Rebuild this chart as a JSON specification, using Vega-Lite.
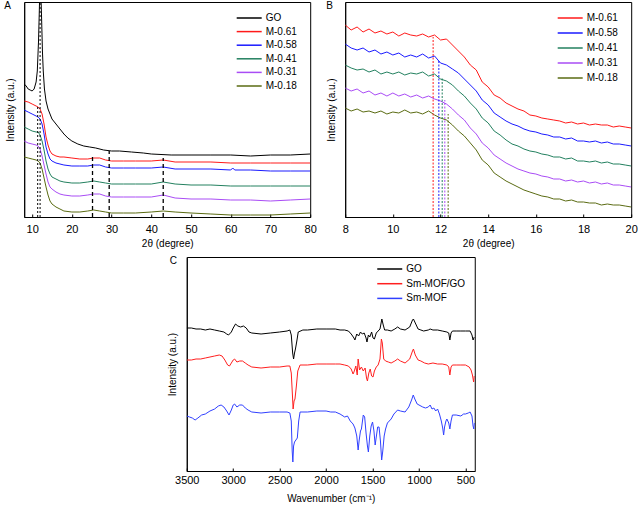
{
"$schema":"https://vega.github.io/schema/vega-lite/v6.json",
"padding":{"left":3,"top":0,"right":0,"bottom":0},
"background":"white",
"config":{
 "font":"Liberation Sans",
 "view":{"stroke":"black","strokeWidth":1},
 "axis":{"grid":false,"domainColor":"black","tickColor":"black","labelColor":"black","titleColor":"black","titleFontWeight":"normal","labelFontSize":11,"titleFontSize":10,"labelFont":"Liberation Sans","titleFont":"Liberation Sans","labelFlush":false},
 "legend":{"orient":"none","symbolType":"M-3.125,0H3.125","symbolStrokeWidth":1.5,"symbolSize":64,"symbolOffset":5,"labelFontSize":10,"labelColor":"black","labelFont":"Liberation Sans","padding":0,"labelOffset":11.5,"title":null},
 "title":{"fontSize":10,"fontWeight":"normal","anchor":"start","frame":"group","offset":-9,"color":"black","font":"Liberation Sans"}
},
"datasets":{
"xa":[
{"s":"GO","x":8,"y":133},{"s":"GO","x":8.5,"y":131},{"s":"GO","x":9,"y":128},{"s":"GO","x":9.5,"y":127},{"s":"GO","x":10,"y":126},{"s":"GO","x":10.5,"y":128},{"s":"GO","x":11,"y":135},{"s":"GO","x":11.3,"y":146},{"s":"GO","x":11.6,"y":175},{"s":"GO","x":11.8,"y":205},{"s":"GO","x":12.0,"y":240},{"s":"GO","x":12.2,"y":225},{"s":"GO","x":12.4,"y":196},{"s":"GO","x":12.6,"y":165},{"s":"GO","x":12.8,"y":146},{"s":"GO","x":13.1,"y":128},{"s":"GO","x":13.5,"y":116},{"s":"GO","x":14,"y":108},{"s":"GO","x":14.5,"y":103},{"s":"GO","x":15,"y":98},{"s":"GO","x":16,"y":93},{"s":"GO","x":17,"y":88},{"s":"GO","x":18,"y":83},{"s":"GO","x":19,"y":79},{"s":"GO","x":20,"y":76},{"s":"GO","x":21.5,"y":73},{"s":"GO","x":23,"y":71},{"s":"GO","x":24.5,"y":70},{"s":"GO","x":26,"y":69},{"s":"GO","x":28,"y":67},{"s":"GO","x":30,"y":66},{"s":"GO","x":32,"y":66},{"s":"GO","x":35,"y":65},{"s":"GO","x":38,"y":64},{"s":"GO","x":40,"y":63},{"s":"GO","x":45,"y":62},{"s":"GO","x":50,"y":62},{"s":"GO","x":55,"y":62},{"s":"GO","x":60,"y":62},{"s":"GO","x":65,"y":61},{"s":"GO","x":70,"y":62},{"s":"GO","x":75,"y":62},{"s":"GO","x":80,"y":63},
{"s":"M-0.61","x":8,"y":116},{"s":"M-0.61","x":9,"y":115},{"s":"M-0.61","x":10,"y":113},{"s":"M-0.61","x":11,"y":111},{"s":"M-0.61","x":11.5,"y":110},{"s":"M-0.61","x":12,"y":108},{"s":"M-0.61","x":12.5,"y":103},{"s":"M-0.61","x":13,"y":93},{"s":"M-0.61","x":13.5,"y":80},{"s":"M-0.61","x":14,"y":72},{"s":"M-0.61","x":14.5,"y":66},{"s":"M-0.61","x":15,"y":63},{"s":"M-0.61","x":16,"y":61},{"s":"M-0.61","x":17,"y":60},{"s":"M-0.61","x":18,"y":60},{"s":"M-0.61","x":20,"y":59},{"s":"M-0.61","x":22,"y":58},{"s":"M-0.61","x":24,"y":58},{"s":"M-0.61","x":25.5,"y":59},{"s":"M-0.61","x":27,"y":59},{"s":"M-0.61","x":28.5,"y":57},{"s":"M-0.61","x":30,"y":56},{"s":"M-0.61","x":33,"y":56},{"s":"M-0.61","x":36,"y":56},{"s":"M-0.61","x":40,"y":56},{"s":"M-0.61","x":43,"y":57},{"s":"M-0.61","x":46,"y":55},{"s":"M-0.61","x":50,"y":55},{"s":"M-0.61","x":55,"y":55},{"s":"M-0.61","x":60,"y":54},{"s":"M-0.61","x":65,"y":54},{"s":"M-0.61","x":70,"y":54},{"s":"M-0.61","x":75,"y":54},{"s":"M-0.61","x":80,"y":54},
{"s":"M-0.58","x":8,"y":107},{"s":"M-0.58","x":9,"y":105},{"s":"M-0.58","x":10,"y":103},{"s":"M-0.58","x":11,"y":101},{"s":"M-0.58","x":11.5,"y":100},{"s":"M-0.58","x":12,"y":98},{"s":"M-0.58","x":12.5,"y":93},{"s":"M-0.58","x":13,"y":83},{"s":"M-0.58","x":13.5,"y":70},{"s":"M-0.58","x":14,"y":63},{"s":"M-0.58","x":14.5,"y":58},{"s":"M-0.58","x":15,"y":56},{"s":"M-0.58","x":16,"y":54},{"s":"M-0.58","x":17,"y":53},{"s":"M-0.58","x":18,"y":52},{"s":"M-0.58","x":20,"y":51},{"s":"M-0.58","x":22,"y":51},{"s":"M-0.58","x":24,"y":51},{"s":"M-0.58","x":25.5,"y":52},{"s":"M-0.58","x":27,"y":52},{"s":"M-0.58","x":28.5,"y":50},{"s":"M-0.58","x":30,"y":49},{"s":"M-0.58","x":33,"y":49},{"s":"M-0.58","x":36,"y":49},{"s":"M-0.58","x":40,"y":49},{"s":"M-0.58","x":43,"y":50},{"s":"M-0.58","x":46,"y":48},{"s":"M-0.58","x":50,"y":48},{"s":"M-0.58","x":55,"y":48},{"s":"M-0.58","x":60,"y":47},{"s":"M-0.58","x":60.5,"y":49},{"s":"M-0.58","x":61,"y":47},{"s":"M-0.58","x":65,"y":47},{"s":"M-0.58","x":70,"y":46},{"s":"M-0.58","x":75,"y":46},{"s":"M-0.58","x":80,"y":46},
{"s":"M-0.41","x":8,"y":90},{"s":"M-0.41","x":9,"y":88},{"s":"M-0.41","x":10,"y":86},{"s":"M-0.41","x":11,"y":85},{"s":"M-0.41","x":11.5,"y":85},{"s":"M-0.41","x":12,"y":82},{"s":"M-0.41","x":12.5,"y":76},{"s":"M-0.41","x":13,"y":67},{"s":"M-0.41","x":13.5,"y":56},{"s":"M-0.41","x":14,"y":48},{"s":"M-0.41","x":14.5,"y":43},{"s":"M-0.41","x":15,"y":40},{"s":"M-0.41","x":16,"y":38},{"s":"M-0.41","x":17,"y":36},{"s":"M-0.41","x":18,"y":35},{"s":"M-0.41","x":20,"y":34},{"s":"M-0.41","x":22,"y":34},{"s":"M-0.41","x":24,"y":35},{"s":"M-0.41","x":25.5,"y":36},{"s":"M-0.41","x":27,"y":35},{"s":"M-0.41","x":28.5,"y":34},{"s":"M-0.41","x":30,"y":33},{"s":"M-0.41","x":33,"y":33},{"s":"M-0.41","x":36,"y":33},{"s":"M-0.41","x":40,"y":33},{"s":"M-0.41","x":43,"y":35},{"s":"M-0.41","x":46,"y":33},{"s":"M-0.41","x":50,"y":32},{"s":"M-0.41","x":55,"y":32},{"s":"M-0.41","x":60,"y":31},{"s":"M-0.41","x":65,"y":31},{"s":"M-0.41","x":70,"y":31},{"s":"M-0.41","x":75,"y":31},{"s":"M-0.41","x":80,"y":31},
{"s":"M-0.31","x":8,"y":76},{"s":"M-0.31","x":9,"y":74},{"s":"M-0.31","x":10,"y":73},{"s":"M-0.31","x":11,"y":72},{"s":"M-0.31","x":11.5,"y":71},{"s":"M-0.31","x":12,"y":68},{"s":"M-0.31","x":12.5,"y":61},{"s":"M-0.31","x":13,"y":52},{"s":"M-0.31","x":13.5,"y":43},{"s":"M-0.31","x":14,"y":35},{"s":"M-0.31","x":14.5,"y":30},{"s":"M-0.31","x":15,"y":28},{"s":"M-0.31","x":16,"y":25},{"s":"M-0.31","x":17,"y":23},{"s":"M-0.31","x":18,"y":22},{"s":"M-0.31","x":20,"y":21},{"s":"M-0.31","x":22,"y":21},{"s":"M-0.31","x":24,"y":22},{"s":"M-0.31","x":25.5,"y":23},{"s":"M-0.31","x":27,"y":23},{"s":"M-0.31","x":28.5,"y":21},{"s":"M-0.31","x":30,"y":20},{"s":"M-0.31","x":33,"y":20},{"s":"M-0.31","x":36,"y":20},{"s":"M-0.31","x":40,"y":20},{"s":"M-0.31","x":43,"y":22},{"s":"M-0.31","x":46,"y":19},{"s":"M-0.31","x":50,"y":18},{"s":"M-0.31","x":55,"y":18},{"s":"M-0.31","x":60,"y":17},{"s":"M-0.31","x":65,"y":17},{"s":"M-0.31","x":70,"y":16},{"s":"M-0.31","x":75,"y":17},{"s":"M-0.31","x":80,"y":18},
{"s":"M-0.18","x":8,"y":60},{"s":"M-0.18","x":9,"y":59},{"s":"M-0.18","x":10,"y":58},{"s":"M-0.18","x":11,"y":57},{"s":"M-0.18","x":11.5,"y":56},{"s":"M-0.18","x":12,"y":54},{"s":"M-0.18","x":12.5,"y":48},{"s":"M-0.18","x":13,"y":39},{"s":"M-0.18","x":13.5,"y":30},{"s":"M-0.18","x":14,"y":22},{"s":"M-0.18","x":14.5,"y":16},{"s":"M-0.18","x":15,"y":13},{"s":"M-0.18","x":16,"y":10},{"s":"M-0.18","x":17,"y":8},{"s":"M-0.18","x":18,"y":6},{"s":"M-0.18","x":20,"y":5},{"s":"M-0.18","x":22,"y":5},{"s":"M-0.18","x":24,"y":6},{"s":"M-0.18","x":25.5,"y":7},{"s":"M-0.18","x":27,"y":6},{"s":"M-0.18","x":28.5,"y":5},{"s":"M-0.18","x":30,"y":4},{"s":"M-0.18","x":33,"y":4},{"s":"M-0.18","x":36,"y":4},{"s":"M-0.18","x":40,"y":5},{"s":"M-0.18","x":43,"y":6},{"s":"M-0.18","x":46,"y":5},{"s":"M-0.18","x":50,"y":4},{"s":"M-0.18","x":55,"y":3},{"s":"M-0.18","x":60,"y":2},{"s":"M-0.18","x":65,"y":2},{"s":"M-0.18","x":70,"y":2},{"s":"M-0.18","x":75,"y":3},{"s":"M-0.18","x":80,"y":4}
],
"ra_dot":[{"x":11.4,"y":0,"y2":110},{"x":12.0,"y":0,"y2":215}],
"ra_dash":[{"x":25.2,"y":0,"y2":63},{"x":29.4,"y":0,"y2":66},{"x":43,"y":0,"y2":59}],
"xb":[
{"s":"M-0.61","x":8,"y":192},{"s":"M-0.61","x":8.25,"y":187},{"s":"M-0.61","x":8.5,"y":190},{"s":"M-0.61","x":8.75,"y":185},{"s":"M-0.61","x":9,"y":188},{"s":"M-0.61","x":9.25,"y":184},{"s":"M-0.61","x":9.5,"y":186},{"s":"M-0.61","x":9.75,"y":183},{"s":"M-0.61","x":10,"y":185},{"s":"M-0.61","x":10.25,"y":181},{"s":"M-0.61","x":10.5,"y":184},{"s":"M-0.61","x":10.75,"y":182},{"s":"M-0.61","x":11,"y":181},{"s":"M-0.61","x":11.25,"y":183},{"s":"M-0.61","x":11.5,"y":180},{"s":"M-0.61","x":11.75,"y":182},{"s":"M-0.61","x":12,"y":177},{"s":"M-0.61","x":12.25,"y":178},{"s":"M-0.61","x":12.5,"y":172},{"s":"M-0.61","x":12.75,"y":166},{"s":"M-0.61","x":13,"y":160},{"s":"M-0.61","x":13.25,"y":152},{"s":"M-0.61","x":13.5,"y":147},{"s":"M-0.61","x":13.75,"y":135},{"s":"M-0.61","x":14,"y":130},{"s":"M-0.61","x":14.25,"y":122},{"s":"M-0.61","x":14.5,"y":119},{"s":"M-0.61","x":14.75,"y":114},{"s":"M-0.61","x":15,"y":111},{"s":"M-0.61","x":15.25,"y":108},{"s":"M-0.61","x":15.5,"y":106},{"s":"M-0.61","x":15.75,"y":102},{"s":"M-0.61","x":16,"y":101},{"s":"M-0.61","x":16.25,"y":99},{"s":"M-0.61","x":16.5,"y":98},{"s":"M-0.61","x":16.75,"y":97},{"s":"M-0.61","x":17,"y":96},{"s":"M-0.61","x":17.25,"y":94},{"s":"M-0.61","x":17.5,"y":95},{"s":"M-0.61","x":17.75,"y":93},{"s":"M-0.61","x":18,"y":94},{"s":"M-0.61","x":18.25,"y":92},{"s":"M-0.61","x":18.5,"y":93},{"s":"M-0.61","x":18.75,"y":92},{"s":"M-0.61","x":19,"y":92},{"s":"M-0.61","x":19.25,"y":90},{"s":"M-0.61","x":19.5,"y":91},{"s":"M-0.61","x":19.75,"y":90},{"s":"M-0.61","x":20,"y":89},
{"s":"M-0.58","x":8,"y":173},{"s":"M-0.58","x":8.25,"y":169},{"s":"M-0.58","x":8.5,"y":167},{"s":"M-0.58","x":8.75,"y":169},{"s":"M-0.58","x":9,"y":165},{"s":"M-0.58","x":9.25,"y":167},{"s":"M-0.58","x":9.5,"y":163},{"s":"M-0.58","x":9.75,"y":165},{"s":"M-0.58","x":10,"y":162},{"s":"M-0.58","x":10.25,"y":164},{"s":"M-0.58","x":10.5,"y":160},{"s":"M-0.58","x":10.75,"y":162},{"s":"M-0.58","x":11,"y":160},{"s":"M-0.58","x":11.25,"y":163},{"s":"M-0.58","x":11.5,"y":159},{"s":"M-0.58","x":11.75,"y":161},{"s":"M-0.58","x":12,"y":154},{"s":"M-0.58","x":12.25,"y":152},{"s":"M-0.58","x":12.5,"y":148},{"s":"M-0.58","x":12.75,"y":144},{"s":"M-0.58","x":13,"y":138},{"s":"M-0.58","x":13.25,"y":132},{"s":"M-0.58","x":13.5,"y":126},{"s":"M-0.58","x":13.75,"y":117},{"s":"M-0.58","x":14,"y":112},{"s":"M-0.58","x":14.25,"y":104},{"s":"M-0.58","x":14.5,"y":100},{"s":"M-0.58","x":14.75,"y":96},{"s":"M-0.58","x":15,"y":93},{"s":"M-0.58","x":15.25,"y":91},{"s":"M-0.58","x":15.5,"y":88},{"s":"M-0.58","x":15.75,"y":86},{"s":"M-0.58","x":16,"y":85},{"s":"M-0.58","x":16.25,"y":83},{"s":"M-0.58","x":16.5,"y":82},{"s":"M-0.58","x":16.75,"y":80},{"s":"M-0.58","x":17,"y":80},{"s":"M-0.58","x":17.25,"y":78},{"s":"M-0.58","x":17.5,"y":79},{"s":"M-0.58","x":17.75,"y":76},{"s":"M-0.58","x":18,"y":76},{"s":"M-0.58","x":18.25,"y":75},{"s":"M-0.58","x":18.5,"y":76},{"s":"M-0.58","x":18.75,"y":74},{"s":"M-0.58","x":19,"y":75},{"s":"M-0.58","x":19.25,"y":73},{"s":"M-0.58","x":19.5,"y":73},{"s":"M-0.58","x":19.75,"y":72},{"s":"M-0.58","x":20,"y":71},
{"s":"M-0.41","x":8,"y":152},{"s":"M-0.41","x":8.25,"y":149},{"s":"M-0.41","x":8.5,"y":147},{"s":"M-0.41","x":8.75,"y":148},{"s":"M-0.41","x":9,"y":145},{"s":"M-0.41","x":9.25,"y":147},{"s":"M-0.41","x":9.5,"y":143},{"s":"M-0.41","x":9.75,"y":145},{"s":"M-0.41","x":10,"y":143},{"s":"M-0.41","x":10.25,"y":145},{"s":"M-0.41","x":10.5,"y":142},{"s":"M-0.41","x":10.75,"y":144},{"s":"M-0.41","x":11,"y":143},{"s":"M-0.41","x":11.25,"y":145},{"s":"M-0.41","x":11.5,"y":141},{"s":"M-0.41","x":11.75,"y":143},{"s":"M-0.41","x":12,"y":138},{"s":"M-0.41","x":12.25,"y":136},{"s":"M-0.41","x":12.5,"y":132},{"s":"M-0.41","x":12.75,"y":126},{"s":"M-0.41","x":13,"y":121},{"s":"M-0.41","x":13.25,"y":114},{"s":"M-0.41","x":13.5,"y":108},{"s":"M-0.41","x":13.75,"y":99},{"s":"M-0.41","x":14,"y":94},{"s":"M-0.41","x":14.25,"y":86},{"s":"M-0.41","x":14.5,"y":82},{"s":"M-0.41","x":14.75,"y":77},{"s":"M-0.41","x":15,"y":73},{"s":"M-0.41","x":15.25,"y":71},{"s":"M-0.41","x":15.5,"y":68},{"s":"M-0.41","x":15.75,"y":66},{"s":"M-0.41","x":16,"y":65},{"s":"M-0.41","x":16.25,"y":63},{"s":"M-0.41","x":16.5,"y":62},{"s":"M-0.41","x":16.75,"y":60},{"s":"M-0.41","x":17,"y":60},{"s":"M-0.41","x":17.25,"y":58},{"s":"M-0.41","x":17.5,"y":59},{"s":"M-0.41","x":17.75,"y":56},{"s":"M-0.41","x":18,"y":56},{"s":"M-0.41","x":18.25,"y":55},{"s":"M-0.41","x":18.5,"y":56},{"s":"M-0.41","x":18.75,"y":54},{"s":"M-0.41","x":19,"y":55},{"s":"M-0.41","x":19.25,"y":53},{"s":"M-0.41","x":19.5,"y":53},{"s":"M-0.41","x":19.75,"y":52},{"s":"M-0.41","x":20,"y":51},
{"s":"M-0.31","x":8,"y":129},{"s":"M-0.31","x":8.25,"y":126},{"s":"M-0.31","x":8.5,"y":128},{"s":"M-0.31","x":8.75,"y":124},{"s":"M-0.31","x":9,"y":126},{"s":"M-0.31","x":9.25,"y":122},{"s":"M-0.31","x":9.5,"y":124},{"s":"M-0.31","x":9.75,"y":121},{"s":"M-0.31","x":10,"y":124},{"s":"M-0.31","x":10.25,"y":121},{"s":"M-0.31","x":10.5,"y":123},{"s":"M-0.31","x":10.75,"y":120},{"s":"M-0.31","x":11,"y":122},{"s":"M-0.31","x":11.25,"y":119},{"s":"M-0.31","x":11.5,"y":121},{"s":"M-0.31","x":11.75,"y":118},{"s":"M-0.31","x":12,"y":116},{"s":"M-0.31","x":12.25,"y":113},{"s":"M-0.31","x":12.5,"y":108},{"s":"M-0.31","x":12.75,"y":102},{"s":"M-0.31","x":13,"y":97},{"s":"M-0.31","x":13.25,"y":89},{"s":"M-0.31","x":13.5,"y":83},{"s":"M-0.31","x":13.75,"y":74},{"s":"M-0.31","x":14,"y":69},{"s":"M-0.31","x":14.25,"y":62},{"s":"M-0.31","x":14.5,"y":58},{"s":"M-0.31","x":14.75,"y":54},{"s":"M-0.31","x":15,"y":51},{"s":"M-0.31","x":15.25,"y":48},{"s":"M-0.31","x":15.5,"y":46},{"s":"M-0.31","x":15.75,"y":44},{"s":"M-0.31","x":16,"y":43},{"s":"M-0.31","x":16.25,"y":41},{"s":"M-0.31","x":16.5,"y":40},{"s":"M-0.31","x":16.75,"y":38},{"s":"M-0.31","x":17,"y":38},{"s":"M-0.31","x":17.25,"y":36},{"s":"M-0.31","x":17.5,"y":37},{"s":"M-0.31","x":17.75,"y":35},{"s":"M-0.31","x":18,"y":36},{"s":"M-0.31","x":18.25,"y":34},{"s":"M-0.31","x":18.5,"y":35},{"s":"M-0.31","x":18.75,"y":33},{"s":"M-0.31","x":19,"y":34},{"s":"M-0.31","x":19.25,"y":32},{"s":"M-0.31","x":19.5,"y":32},{"s":"M-0.31","x":19.75,"y":31},{"s":"M-0.31","x":20,"y":30},
{"s":"M-0.18","x":8,"y":109},{"s":"M-0.18","x":8.25,"y":106},{"s":"M-0.18","x":8.5,"y":108},{"s":"M-0.18","x":8.75,"y":105},{"s":"M-0.18","x":9,"y":106},{"s":"M-0.18","x":9.25,"y":104},{"s":"M-0.18","x":9.5,"y":106},{"s":"M-0.18","x":9.75,"y":103},{"s":"M-0.18","x":10,"y":105},{"s":"M-0.18","x":10.25,"y":104},{"s":"M-0.18","x":10.5,"y":107},{"s":"M-0.18","x":10.75,"y":104},{"s":"M-0.18","x":11,"y":105},{"s":"M-0.18","x":11.25,"y":103},{"s":"M-0.18","x":11.5,"y":106},{"s":"M-0.18","x":11.75,"y":102},{"s":"M-0.18","x":12,"y":99},{"s":"M-0.18","x":12.25,"y":97},{"s":"M-0.18","x":12.5,"y":92},{"s":"M-0.18","x":12.75,"y":86},{"s":"M-0.18","x":13,"y":81},{"s":"M-0.18","x":13.25,"y":74},{"s":"M-0.18","x":13.5,"y":67},{"s":"M-0.18","x":13.75,"y":57},{"s":"M-0.18","x":14,"y":52},{"s":"M-0.18","x":14.25,"y":44},{"s":"M-0.18","x":14.5,"y":40},{"s":"M-0.18","x":14.75,"y":36},{"s":"M-0.18","x":15,"y":33},{"s":"M-0.18","x":15.25,"y":30},{"s":"M-0.18","x":15.5,"y":27},{"s":"M-0.18","x":15.75,"y":25},{"s":"M-0.18","x":16,"y":23},{"s":"M-0.18","x":16.25,"y":21},{"s":"M-0.18","x":16.5,"y":20},{"s":"M-0.18","x":16.75,"y":18},{"s":"M-0.18","x":17,"y":18},{"s":"M-0.18","x":17.25,"y":16},{"s":"M-0.18","x":17.5,"y":17},{"s":"M-0.18","x":17.75,"y":15},{"s":"M-0.18","x":18,"y":15},{"s":"M-0.18","x":18.25,"y":14},{"s":"M-0.18","x":18.5,"y":14},{"s":"M-0.18","x":18.75,"y":12},{"s":"M-0.18","x":19,"y":13},{"s":"M-0.18","x":19.25,"y":12},{"s":"M-0.18","x":19.5,"y":12},{"s":"M-0.18","x":19.75,"y":11},{"s":"M-0.18","x":20,"y":10}
],
"rb":[{"s":"M-0.61","x":11.69,"y":0,"y2":180},{"s":"M-0.58","x":11.93,"y":0,"y2":157},{"s":"M-0.41","x":12.07,"y":0,"y2":140},{"s":"M-0.31","x":12.18,"y":0,"y2":117},{"s":"M-0.18","x":12.32,"y":0,"y2":103}],
"xc":[
{"s":"GO","x":3500,"y":143},{"s":"GO","x":3450,"y":143},{"s":"GO","x":3400,"y":142},{"s":"GO","x":3350,"y":142},{"s":"GO","x":3300,"y":141},{"s":"GO","x":3250,"y":142},{"s":"GO","x":3200,"y":141},{"s":"GO","x":3150,"y":140},{"s":"GO","x":3100,"y":139},{"s":"GO","x":3070,"y":137},{"s":"GO","x":3050,"y":136},{"s":"GO","x":3020,"y":139},{"s":"GO","x":3000,"y":143},{"s":"GO","x":2975,"y":147},{"s":"GO","x":2950,"y":145},{"s":"GO","x":2920,"y":144},{"s":"GO","x":2890,"y":145},{"s":"GO","x":2860,"y":143},{"s":"GO","x":2830,"y":139},{"s":"GO","x":2800,"y":138},{"s":"GO","x":2700,"y":137},{"s":"GO","x":2600,"y":138},{"s":"GO","x":2500,"y":139},{"s":"GO","x":2420,"y":140},{"s":"GO","x":2390,"y":141},{"s":"GO","x":2375,"y":136},{"s":"GO","x":2360,"y":118},{"s":"GO","x":2350,"y":112},{"s":"GO","x":2340,"y":118},{"s":"GO","x":2330,"y":122},{"s":"GO","x":2315,"y":130},{"s":"GO","x":2300,"y":139},{"s":"GO","x":2250,"y":141},{"s":"GO","x":2200,"y":141},{"s":"GO","x":2100,"y":142},{"s":"GO","x":2000,"y":142},{"s":"GO","x":1900,"y":142},{"s":"GO","x":1850,"y":141},{"s":"GO","x":1800,"y":141},{"s":"GO","x":1760,"y":140},{"s":"GO","x":1730,"y":137},{"s":"GO","x":1700,"y":133},{"s":"GO","x":1690,"y":131},{"s":"GO","x":1670,"y":137},{"s":"GO","x":1650,"y":135},{"s":"GO","x":1630,"y":139},{"s":"GO","x":1610,"y":137},{"s":"GO","x":1590,"y":138},{"s":"GO","x":1570,"y":133},{"s":"GO","x":1560,"y":129},{"s":"GO","x":1545,"y":136},{"s":"GO","x":1530,"y":134},{"s":"GO","x":1510,"y":139},{"s":"GO","x":1495,"y":133},{"s":"GO","x":1480,"y":132},{"s":"GO","x":1460,"y":138},{"s":"GO","x":1440,"y":140},{"s":"GO","x":1420,"y":142},{"s":"GO","x":1400,"y":152},{"s":"GO","x":1385,"y":146},{"s":"GO","x":1370,"y":141},{"s":"GO","x":1340,"y":141},{"s":"GO","x":1300,"y":140},{"s":"GO","x":1260,"y":142},{"s":"GO","x":1230,"y":144},{"s":"GO","x":1200,"y":142},{"s":"GO","x":1150,"y":141},{"s":"GO","x":1100,"y":144},{"s":"GO","x":1070,"y":151},{"s":"GO","x":1060,"y":152},{"s":"GO","x":1040,"y":148},{"s":"GO","x":1010,"y":142},{"s":"GO","x":980,"y":141},{"s":"GO","x":950,"y":140},{"s":"GO","x":900,"y":141},{"s":"GO","x":880,"y":142},{"s":"GO","x":850,"y":141},{"s":"GO","x":800,"y":141},{"s":"GO","x":750,"y":140},{"s":"GO","x":700,"y":139},{"s":"GO","x":680,"y":138},{"s":"GO","x":668,"y":131},{"s":"GO","x":655,"y":138},{"s":"GO","x":640,"y":140},{"s":"GO","x":600,"y":140},{"s":"GO","x":550,"y":140},{"s":"GO","x":500,"y":140},{"s":"GO","x":450,"y":140},{"s":"GO","x":430,"y":136},{"s":"GO","x":418,"y":131},{"s":"GO","x":405,"y":134},
{"s":"Sm-MOF/GO","x":3500,"y":111},{"s":"Sm-MOF/GO","x":3450,"y":111},{"s":"Sm-MOF/GO","x":3400,"y":112},{"s":"Sm-MOF/GO","x":3350,"y":112},{"s":"Sm-MOF/GO","x":3300,"y":113},{"s":"Sm-MOF/GO","x":3250,"y":114},{"s":"Sm-MOF/GO","x":3200,"y":115},{"s":"Sm-MOF/GO","x":3150,"y":116},{"s":"Sm-MOF/GO","x":3120,"y":115},{"s":"Sm-MOF/GO","x":3090,"y":111},{"s":"Sm-MOF/GO","x":3060,"y":106},{"s":"Sm-MOF/GO","x":3040,"y":105},{"s":"Sm-MOF/GO","x":3020,"y":108},{"s":"Sm-MOF/GO","x":3000,"y":111},{"s":"Sm-MOF/GO","x":2985,"y":112},{"s":"Sm-MOF/GO","x":2960,"y":109},{"s":"Sm-MOF/GO","x":2930,"y":110},{"s":"Sm-MOF/GO","x":2900,"y":110},{"s":"Sm-MOF/GO","x":2870,"y":108},{"s":"Sm-MOF/GO","x":2840,"y":106},{"s":"Sm-MOF/GO","x":2800,"y":104},{"s":"Sm-MOF/GO","x":2700,"y":103},{"s":"Sm-MOF/GO","x":2600,"y":104},{"s":"Sm-MOF/GO","x":2500,"y":104},{"s":"Sm-MOF/GO","x":2420,"y":105},{"s":"Sm-MOF/GO","x":2390,"y":105},{"s":"Sm-MOF/GO","x":2375,"y":98},{"s":"Sm-MOF/GO","x":2362,"y":75},{"s":"Sm-MOF/GO","x":2355,"y":62},{"s":"Sm-MOF/GO","x":2345,"y":70},{"s":"Sm-MOF/GO","x":2335,"y":72},{"s":"Sm-MOF/GO","x":2320,"y":85},{"s":"Sm-MOF/GO","x":2305,"y":100},{"s":"Sm-MOF/GO","x":2280,"y":106},{"s":"Sm-MOF/GO","x":2200,"y":106},{"s":"Sm-MOF/GO","x":2100,"y":107},{"s":"Sm-MOF/GO","x":2000,"y":107},{"s":"Sm-MOF/GO","x":1900,"y":107},{"s":"Sm-MOF/GO","x":1850,"y":107},{"s":"Sm-MOF/GO","x":1800,"y":106},{"s":"Sm-MOF/GO","x":1760,"y":105},{"s":"Sm-MOF/GO","x":1730,"y":102},{"s":"Sm-MOF/GO","x":1710,"y":97},{"s":"Sm-MOF/GO","x":1700,"y":99},{"s":"Sm-MOF/GO","x":1680,"y":105},{"s":"Sm-MOF/GO","x":1665,"y":96},{"s":"Sm-MOF/GO","x":1655,"y":112},{"s":"Sm-MOF/GO","x":1640,"y":101},{"s":"Sm-MOF/GO","x":1620,"y":104},{"s":"Sm-MOF/GO","x":1600,"y":100},{"s":"Sm-MOF/GO","x":1580,"y":103},{"s":"Sm-MOF/GO","x":1565,"y":93},{"s":"Sm-MOF/GO","x":1555,"y":90},{"s":"Sm-MOF/GO","x":1540,"y":98},{"s":"Sm-MOF/GO","x":1525,"y":102},{"s":"Sm-MOF/GO","x":1510,"y":95},{"s":"Sm-MOF/GO","x":1495,"y":94},{"s":"Sm-MOF/GO","x":1480,"y":100},{"s":"Sm-MOF/GO","x":1460,"y":104},{"s":"Sm-MOF/GO","x":1440,"y":106},{"s":"Sm-MOF/GO","x":1420,"y":112},{"s":"Sm-MOF/GO","x":1405,"y":132},{"s":"Sm-MOF/GO","x":1395,"y":128},{"s":"Sm-MOF/GO","x":1380,"y":112},{"s":"Sm-MOF/GO","x":1360,"y":110},{"s":"Sm-MOF/GO","x":1330,"y":109},{"s":"Sm-MOF/GO","x":1300,"y":108},{"s":"Sm-MOF/GO","x":1260,"y":110},{"s":"Sm-MOF/GO","x":1230,"y":112},{"s":"Sm-MOF/GO","x":1200,"y":110},{"s":"Sm-MOF/GO","x":1150,"y":108},{"s":"Sm-MOF/GO","x":1100,"y":112},{"s":"Sm-MOF/GO","x":1070,"y":120},{"s":"Sm-MOF/GO","x":1060,"y":122},{"s":"Sm-MOF/GO","x":1040,"y":116},{"s":"Sm-MOF/GO","x":1010,"y":111},{"s":"Sm-MOF/GO","x":980,"y":110},{"s":"Sm-MOF/GO","x":940,"y":108},{"s":"Sm-MOF/GO","x":900,"y":107},{"s":"Sm-MOF/GO","x":850,"y":108},{"s":"Sm-MOF/GO","x":800,"y":107},{"s":"Sm-MOF/GO","x":750,"y":107},{"s":"Sm-MOF/GO","x":700,"y":106},{"s":"Sm-MOF/GO","x":680,"y":104},{"s":"Sm-MOF/GO","x":668,"y":96},{"s":"Sm-MOF/GO","x":655,"y":104},{"s":"Sm-MOF/GO","x":640,"y":106},{"s":"Sm-MOF/GO","x":600,"y":106},{"s":"Sm-MOF/GO","x":550,"y":106},{"s":"Sm-MOF/GO","x":500,"y":106},{"s":"Sm-MOF/GO","x":460,"y":104},{"s":"Sm-MOF/GO","x":440,"y":101},{"s":"Sm-MOF/GO","x":425,"y":96},{"s":"Sm-MOF/GO","x":412,"y":89},{"s":"Sm-MOF/GO","x":405,"y":95},
{"s":"Sm-MOF","x":3500,"y":55},{"s":"Sm-MOF","x":3470,"y":54},{"s":"Sm-MOF","x":3440,"y":53},{"s":"Sm-MOF","x":3410,"y":51},{"s":"Sm-MOF","x":3380,"y":53},{"s":"Sm-MOF","x":3340,"y":56},{"s":"Sm-MOF","x":3300,"y":57},{"s":"Sm-MOF","x":3250,"y":60},{"s":"Sm-MOF","x":3200,"y":62},{"s":"Sm-MOF","x":3160,"y":65},{"s":"Sm-MOF","x":3130,"y":66},{"s":"Sm-MOF","x":3100,"y":64},{"s":"Sm-MOF","x":3070,"y":60},{"s":"Sm-MOF","x":3045,"y":56},{"s":"Sm-MOF","x":3020,"y":61},{"s":"Sm-MOF","x":3000,"y":66},{"s":"Sm-MOF","x":2985,"y":67},{"s":"Sm-MOF","x":2960,"y":64},{"s":"Sm-MOF","x":2930,"y":66},{"s":"Sm-MOF","x":2900,"y":66},{"s":"Sm-MOF","x":2870,"y":63},{"s":"Sm-MOF","x":2840,"y":61},{"s":"Sm-MOF","x":2800,"y":59},{"s":"Sm-MOF","x":2700,"y":58},{"s":"Sm-MOF","x":2600,"y":59},{"s":"Sm-MOF","x":2500,"y":59},{"s":"Sm-MOF","x":2420,"y":59},{"s":"Sm-MOF","x":2390,"y":58},{"s":"Sm-MOF","x":2375,"y":50},{"s":"Sm-MOF","x":2365,"y":20},{"s":"Sm-MOF","x":2358,"y":9},{"s":"Sm-MOF","x":2350,"y":25},{"s":"Sm-MOF","x":2340,"y":29},{"s":"Sm-MOF","x":2325,"y":31},{"s":"Sm-MOF","x":2310,"y":33},{"s":"Sm-MOF","x":2295,"y":50},{"s":"Sm-MOF","x":2280,"y":59},{"s":"Sm-MOF","x":2200,"y":59},{"s":"Sm-MOF","x":2100,"y":60},{"s":"Sm-MOF","x":2000,"y":60},{"s":"Sm-MOF","x":1950,"y":59},{"s":"Sm-MOF","x":1900,"y":59},{"s":"Sm-MOF","x":1850,"y":57},{"s":"Sm-MOF","x":1800,"y":54},{"s":"Sm-MOF","x":1770,"y":55},{"s":"Sm-MOF","x":1740,"y":50},{"s":"Sm-MOF","x":1710,"y":47},{"s":"Sm-MOF","x":1690,"y":43},{"s":"Sm-MOF","x":1670,"y":35},{"s":"Sm-MOF","x":1655,"y":21},{"s":"Sm-MOF","x":1645,"y":30},{"s":"Sm-MOF","x":1630,"y":40},{"s":"Sm-MOF","x":1620,"y":42},{"s":"Sm-MOF","x":1600,"y":56},{"s":"Sm-MOF","x":1585,"y":54},{"s":"Sm-MOF","x":1570,"y":38},{"s":"Sm-MOF","x":1555,"y":25},{"s":"Sm-MOF","x":1545,"y":19},{"s":"Sm-MOF","x":1530,"y":35},{"s":"Sm-MOF","x":1515,"y":45},{"s":"Sm-MOF","x":1500,"y":49},{"s":"Sm-MOF","x":1485,"y":40},{"s":"Sm-MOF","x":1472,"y":26},{"s":"Sm-MOF","x":1460,"y":34},{"s":"Sm-MOF","x":1445,"y":44},{"s":"Sm-MOF","x":1430,"y":44},{"s":"Sm-MOF","x":1415,"y":30},{"s":"Sm-MOF","x":1402,"y":11},{"s":"Sm-MOF","x":1390,"y":20},{"s":"Sm-MOF","x":1375,"y":35},{"s":"Sm-MOF","x":1360,"y":42},{"s":"Sm-MOF","x":1340,"y":48},{"s":"Sm-MOF","x":1300,"y":52},{"s":"Sm-MOF","x":1270,"y":57},{"s":"Sm-MOF","x":1230,"y":61},{"s":"Sm-MOF","x":1200,"y":60},{"s":"Sm-MOF","x":1150,"y":59},{"s":"Sm-MOF","x":1110,"y":64},{"s":"Sm-MOF","x":1080,"y":71},{"s":"Sm-MOF","x":1062,"y":76},{"s":"Sm-MOF","x":1045,"y":72},{"s":"Sm-MOF","x":1020,"y":67},{"s":"Sm-MOF","x":1000,"y":66},{"s":"Sm-MOF","x":960,"y":64},{"s":"Sm-MOF","x":930,"y":63},{"s":"Sm-MOF","x":900,"y":64},{"s":"Sm-MOF","x":880,"y":66},{"s":"Sm-MOF","x":860,"y":62},{"s":"Sm-MOF","x":840,"y":63},{"s":"Sm-MOF","x":820,"y":60},{"s":"Sm-MOF","x":800,"y":62},{"s":"Sm-MOF","x":780,"y":57},{"s":"Sm-MOF","x":760,"y":50},{"s":"Sm-MOF","x":745,"y":43},{"s":"Sm-MOF","x":735,"y":36},{"s":"Sm-MOF","x":725,"y":44},{"s":"Sm-MOF","x":710,"y":50},{"s":"Sm-MOF","x":700,"y":52},{"s":"Sm-MOF","x":680,"y":48},{"s":"Sm-MOF","x":668,"y":42},{"s":"Sm-MOF","x":655,"y":50},{"s":"Sm-MOF","x":640,"y":56},{"s":"Sm-MOF","x":600,"y":56},{"s":"Sm-MOF","x":550,"y":55},{"s":"Sm-MOF","x":520,"y":57},{"s":"Sm-MOF","x":500,"y":57},{"s":"Sm-MOF","x":470,"y":58},{"s":"Sm-MOF","x":450,"y":59},{"s":"Sm-MOF","x":430,"y":55},{"s":"Sm-MOF","x":418,"y":45},{"s":"Sm-MOF","x":410,"y":42},{"s":"Sm-MOF","x":403,"y":48}
]
},
"vconcat":[
 {"hconcat":[
  {"title":{"text":"A","dx":-20},
   "width":286,"height":215,
   "layer":[
    {"data":{"name":"xa"},"mark":{"type":"line","strokeWidth":1,"clip":true},
     "encoding":{
      "x":{"field":"x","type":"quantitative","scale":{"domain":[8,80],"nice":false,"zero":false},
        "axis":{"title":"2θ (degree)","values":[10,15,20,25,30,35,40,45,50,55,60,65,70,75,80],"labelExpr":"datum.value % 10 == 0 ? datum.label : ''","tickSize":-3,"labelPadding":9,"titlePadding":4}},
      "y":{"field":"y","type":"quantitative","scale":{"domain":[0,215],"nice":false},
        "axis":{"title":"Intensity (a.u.)","labels":false,"ticks":false,"titlePadding":9}},
      "color":{"field":"s","type":"nominal","scale":{"domain":["GO","M-0.61","M-0.58","M-0.41","M-0.31","M-0.18"],"range":["#000000","#ff1a1a","#1a1aff","#23805f","#a94cf5","#5a6b12"]},
        "legend":{"legendX":215,"legendY":11,"rowPadding":3.6}}
     }},
    {"data":{"name":"ra_dot"},"mark":{"type":"rule","color":"black","strokeWidth":1,"strokeDash":[2,2]},
     "encoding":{"x":{"field":"x","type":"quantitative"},"y":{"field":"y","type":"quantitative"},"y2":{"field":"y2"}}},
    {"data":{"name":"ra_dash"},"mark":{"type":"rule","color":"black","strokeWidth":1.3,"strokeDash":[4,3]},
     "encoding":{"x":{"field":"x","type":"quantitative"},"y":{"field":"y","type":"quantitative"},"y2":{"field":"y2"}}}
   ]},
  {"title":{"text":"B","dx":-19},
   "width":286,"height":215,
   "layer":[
    {"data":{"name":"xb"},"mark":{"type":"line","strokeWidth":1,"clip":true},
     "encoding":{
      "x":{"field":"x","type":"quantitative","scale":{"domain":[8,20],"nice":false,"zero":false},
        "axis":{"title":"2θ (degree)","values":[8,9,10,11,12,13,14,15,16,17,18,19,20],"labelExpr":"datum.value % 2 == 0 ? datum.label : ''","tickSize":-3,"labelPadding":9,"titlePadding":4}},
      "y":{"field":"y","type":"quantitative","scale":{"domain":[0,215],"nice":false},
        "axis":{"title":"Intensity (a.u.)","labels":false,"ticks":false,"titlePadding":9}},
      "color":{"field":"s","type":"nominal","scale":{"domain":["M-0.61","M-0.58","M-0.41","M-0.31","M-0.18"],"range":["#ff1a1a","#1a1aff","#23805f","#a94cf5","#5a6b12"]},
        "legend":{"legendX":215,"legendY":11,"rowPadding":5}}
     }},
    {"data":{"name":"rb"},"mark":{"type":"rule","strokeWidth":1,"strokeDash":[2,1.5]},
     "encoding":{"x":{"field":"x","type":"quantitative"},"y":{"field":"y","type":"quantitative"},"y2":{"field":"y2"},"color":{"field":"s","type":"nominal"}}}
   ]}
 ],"spacing":8,"resolve":{"scale":{"color":"independent"},"legend":{"color":"independent"}}},
 {"title":{"text":"C","dx":-17},
  "width":288,"height":214,
  "data":{"name":"xc"},
  "layer":[
   {"mark":{"type":"line","strokeWidth":1,"clip":true},
    "encoding":{
     "x":{"field":"x","type":"quantitative","scale":{"domain":[400,3500],"reverse":true,"nice":false,"zero":false},
       "axis":{"title":"Wavenumber (cm⁻¹)","values":[3500,3250,3000,2750,2500,2250,2000,1750,1500,1250,1000,750,500],"format":"d","labelExpr":"datum.value % 500 == 0 ? datum.label : ''","tickSize":-3,"labelPadding":6,"titlePadding":8}},
     "y":{"field":"y","type":"quantitative","scale":{"domain":[0,214],"nice":false},
       "axis":{"title":"Intensity (a.u.)","labels":false,"ticks":false,"titlePadding":9}},
     "color":{"field":"s","type":"nominal","scale":{"domain":["GO","Sm-MOF/GO","Sm-MOF"],"range":["#000000","#ff1f1f","#3040ff"]},
       "legend":{"legendX":193,"legendY":7,"rowPadding":4.7}}
    }},
   {"mark":{"type":"line","opacity":0,"clip":true},
    "encoding":{
     "x":{"field":"x","type":"quantitative"},
     "y":{"field":"y","type":"quantitative","axis":{"orient":"left","title":"Intensity (a.u.)","titleOpacity":0,"labels":false,"ticks":false,"domain":false,"titlePadding":11}},
     "detail":{"field":"s","type":"nominal"}
    }}
  ],
  "resolve":{"axis":{"y":"independent"}}
 }
],
"spacing":6,
"center":true,
"resolve":{"scale":{"color":"independent"},"legend":{"color":"independent"}}
}
